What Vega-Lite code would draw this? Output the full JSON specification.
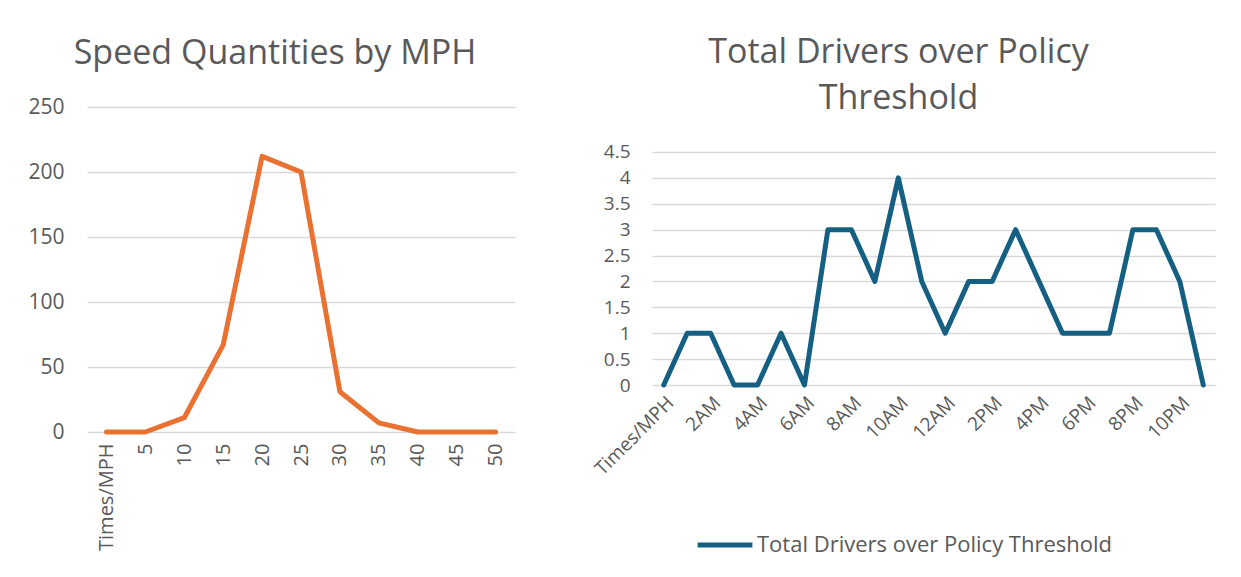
{
  "$schema": "https://vega.github.io/schema/vega-lite/v6.json",
  "padding": {"left": 27, "top": 36, "right": 5, "bottom": 5},
  "background": "white",
  "spacing": 76,
  "resolve": {"legend": {"color": "independent"}},
  "hconcat": [
    {
      "width": 428,
      "height": 325,
      "title": {"text": "Speed Quantities by MPH", "dx": -26, "offset": 25},
      "data": {"values": [
        {"mph": "Times/MPH", "count": 0},
        {"mph": "5", "count": 0},
        {"mph": "10", "count": 11},
        {"mph": "15", "count": 67},
        {"mph": "20", "count": 212},
        {"mph": "25", "count": 200},
        {"mph": "30", "count": 31},
        {"mph": "35", "count": 7},
        {"mph": "40", "count": 0},
        {"mph": "45", "count": 0},
        {"mph": "50", "count": 0}
      ]},
      "mark": {"type": "line", "color": "#E97132", "strokeWidth": 5, "strokeCap": "round", "strokeJoin": "round"},
      "encoding": {
        "x": {"field": "mph", "type": "ordinal", "sort": null, "scale": {"type": "point", "padding": 0.5},
              "axis": {"title": null, "labelAngle": -90, "labelPadding": 11, "grid": false, "labelFontSize": 20}},
        "y": {"field": "count", "type": "quantitative", "scale": {"domain": [0, 250]},
              "axis": {"title": null, "values": [0, 50, 100, 150, 200, 250], "labelPadding": 23, "labelFontSize": 21}}
      }
    },
    {
      "width": 563,
      "height": 278,
      "title": {"text": ["Total Drivers over Policy", "Threshold"], "dx": -35, "offset": -9, "lineHeight": 46},
      "data": {"values": [
        {"time": "Times/MPH", "drivers": 0, "series": "Total Drivers over Policy Threshold"},
        {"time": "1AM", "drivers": 1, "series": "Total Drivers over Policy Threshold"},
        {"time": "2AM", "drivers": 1, "series": "Total Drivers over Policy Threshold"},
        {"time": "3AM", "drivers": 0, "series": "Total Drivers over Policy Threshold"},
        {"time": "4AM", "drivers": 0, "series": "Total Drivers over Policy Threshold"},
        {"time": "5AM", "drivers": 1, "series": "Total Drivers over Policy Threshold"},
        {"time": "6AM", "drivers": 0, "series": "Total Drivers over Policy Threshold"},
        {"time": "7AM", "drivers": 3, "series": "Total Drivers over Policy Threshold"},
        {"time": "8AM", "drivers": 3, "series": "Total Drivers over Policy Threshold"},
        {"time": "9AM", "drivers": 2, "series": "Total Drivers over Policy Threshold"},
        {"time": "10AM", "drivers": 4, "series": "Total Drivers over Policy Threshold"},
        {"time": "11AM", "drivers": 2, "series": "Total Drivers over Policy Threshold"},
        {"time": "12AM", "drivers": 1, "series": "Total Drivers over Policy Threshold"},
        {"time": "1PM", "drivers": 2, "series": "Total Drivers over Policy Threshold"},
        {"time": "2PM", "drivers": 2, "series": "Total Drivers over Policy Threshold"},
        {"time": "3PM", "drivers": 3, "series": "Total Drivers over Policy Threshold"},
        {"time": "4PM", "drivers": 2, "series": "Total Drivers over Policy Threshold"},
        {"time": "5PM", "drivers": 1, "series": "Total Drivers over Policy Threshold"},
        {"time": "6PM", "drivers": 1, "series": "Total Drivers over Policy Threshold"},
        {"time": "7PM", "drivers": 1, "series": "Total Drivers over Policy Threshold"},
        {"time": "8PM", "drivers": 3, "series": "Total Drivers over Policy Threshold"},
        {"time": "9PM", "drivers": 3, "series": "Total Drivers over Policy Threshold"},
        {"time": "10PM", "drivers": 2, "series": "Total Drivers over Policy Threshold"},
        {"time": "11PM", "drivers": 0, "series": "Total Drivers over Policy Threshold"}
      ]},
      "mark": {"type": "line", "strokeWidth": 5, "strokeCap": "round", "strokeJoin": "round"},
      "encoding": {
        "x": {"field": "time", "type": "ordinal", "sort": null, "scale": {"type": "point", "padding": 0.5},
              "axis": {"title": null, "labelAngle": -45, "labelPadding": 8, "grid": false, "labelFontSize": 19,
                       "values": ["Times/MPH", "2AM", "4AM", "6AM", "8AM", "10AM", "12AM", "2PM", "4PM", "6PM", "8PM", "10PM"]}},
        "y": {"field": "drivers", "type": "quantitative", "scale": {"domain": [0, 5.369], "nice": false},
              "axis": {"title": null, "values": [0, 0.5, 1, 1.5, 2, 2.5, 3, 3.5, 4, 4.5], "format": "~g", "labelPadding": 22, "labelFontSize": 19}},
        "color": {"field": "series", "type": "nominal",
                  "scale": {"domain": ["Total Drivers over Policy Threshold"], "range": ["#156082"]},
                  "legend": {"title": null, "orient": "none", "legendX": 43, "legendY": 408,
                             "symbolType": "stroke", "symbolSize": 3000, "symbolStrokeWidth": 5,
                             "labelFontSize": 22, "labelFont": "Open Sans", "labelColor": "#595959", "labelOffset": 2, "labelLimit": 500}}
      }
    }
  ],
  "config": {
    "font": "Open Sans",
    "view": {"stroke": null},
    "title": {"fontSize": 34, "fontWeight": "normal", "color": "#595959", "font": "Open Sans", "anchor": "middle", "frame": "group"},
    "axis": {"domain": false, "ticks": false, "labelColor": "#595959", "labelFont": "Open Sans",
             "gridColor": "#d9d9d9", "gridWidth": 1.5}
  }
}
